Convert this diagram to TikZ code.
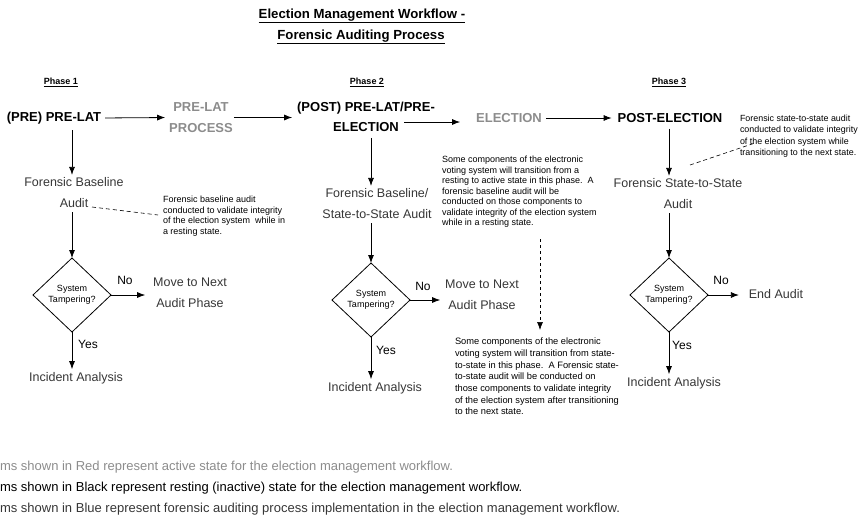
\documentclass[tikz,border=0pt]{standalone}
\usepackage{fontspec}
\setmainfont{Liberation Sans}
\usetikzlibrary{arrows.meta,shapes.geometric}
\definecolor{activegray}{HTML}{8C8C8C}
\definecolor{auditgray}{HTML}{363636}
\begin{document}
\begin{tikzpicture}[x=1pt,y=-1pt,
  every node/.style={inner sep=0pt, outer sep=0pt},
  arr/.style={draw, line width=0.8pt, -{Latex[length=8pt,width=6pt]}},
  dasharr/.style={draw, line width=0.6pt, dash pattern=on 3pt off 3pt, -{Latex[length=8pt,width=6pt]}},
  dashline/.style={draw, line width=0.6pt, dash pattern=on 4pt off 3pt},
  statebk/.style={font=\fontsize{13}{20}\selectfont\bfseries, text=black, align=center},
  stateact/.style={font=\fontsize{13}{21}\selectfont\bfseries, text=activegray, align=center},
  audit/.style={font=\fontsize{12.5}{21}\selectfont, text=auditgray, align=center},
  notetxt/.style={font=\fontsize{9}{10.5}\selectfont, align=left, anchor=north west, text=black},
  decision/.style={diamond, draw, line width=0.8pt, minimum width=78pt, minimum height=74pt, aspect=1.05, font=\fontsize{9}{11}\selectfont, align=center},
  phase/.style={font=\fontsize{9}{11}\selectfont\bfseries},
  lbl/.style={font=\fontsize{12}{14}\selectfont, text=black},
  legendtxt/.style={font=\fontsize{13}{15}\selectfont, anchor=west},
  titletxt/.style={font=\fontsize{13.2}{16}\selectfont\bfseries}
]
\useasboundingbox (0,0) rectangle (860,525);

% title
\node[titletxt] (t1) at (362,16) {\underline{Election Management Workflow -}};
\node[titletxt] (t2) at (361,37) {\underline{Forensic Auditing Process}};

% phase labels
\node[phase] (ph1) at (61,82) {\underline{Phase 1}};
\node[phase] (ph2) at (367,82) {\underline{Phase 2}};
\node[phase] (ph3) at (669,82) {\underline{Phase 3}};

% top row
\node[statebk] (prelat) at (54,118) {(PRE) PRE-LAT};
\node[stateact] (proc) at (201,117.5) {PRE-LAT\\PROCESS};
\node[statebk] (postpre) at (366,117) {(POST) PRE-LAT/PRE-\\ELECTION};
\node[stateact] (elec) at (509,118) {ELECTION};
\node[statebk] (postel) at (670,118) {POST-ELECTION};

\draw[arr, shorten <=4pt, shorten >=4pt] (prelat.east) -- (proc.west);
\draw[arr, shorten <=1pt, shorten >=5pt] (proc.east) -- (proc.east -| postpre.west);
\coordinate (a3s) at (404,122);
\draw[arr, shorten >=16pt] (a3s) -- (a3s -| elec.west);
\draw[arr, shorten <=4pt, shorten >=6pt] (elec.east) -- (elec.east -| postel.west);

% phase 1 column
\node[audit] (fba) at (74,193) {Forensic Baseline\\Audit};
\node[decision] (d1) at (72,295) {System\\Tampering?};
\node[audit] (move1) at (190,293) {Move to Next\\Audit Phase};
\node[audit] (inc1) at (76,378) {Incident Analysis};
\draw[arr, shorten <=6pt, shorten >=3pt] (d1 |- prelat.south) -- (d1 |- fba.north);
\draw[arr, shorten <=4pt, shorten >=0pt] (d1 |- fba.south) -- (d1.north);
\draw[arr, shorten >=8pt] (d1.east) -- (d1.east -| move1.west);
\node[lbl] (no1) at (125,280) {No};
\draw[arr, shorten >=3pt] (d1.south) -- (d1 |- inc1.north);
\node[lbl] (yes1) at (88,344) {Yes};
\node[notetxt] (note1) at (163,196) {Forensic baseline audit\\conducted to validate integrity\\of the election system\ \ while in\\a resting state.};
\coordinate (d1a) at (92,207);
\coordinate (d1b) at (158,215);
\draw[dashline] (d1a) -- (d1b);

% phase 2 column
\node[audit] (fbs) at (377,204) {Forensic Baseline/\\State-to-State Audit};
\node[decision] (d2) at (371,300) {System\\Tampering?};
\node[audit] (move2) at (482,295) {Move to Next\\Audit Phase};
\node[audit] (inc2) at (375,388) {Incident Analysis};
\draw[arr, shorten <=6pt, shorten >=3pt] (d2 |- postpre.south) -- (d2 |- fbs.north);
\draw[arr, shorten <=4pt, shorten >=0pt] (d2 |- fbs.south) -- (d2.north);
\draw[arr, shorten >=5pt] (d2.east) -- (d2.east -| move2.west);
\node[lbl] (no2) at (423,286) {No};
\draw[arr, shorten >=3pt] (d2.south) -- (d2 |- inc2.north);
\node[lbl] (yes2) at (386,350) {Yes};
\node[notetxt] (note2) at (442,156) {Some components of the electronic\\voting system will transition from a\\resting to active state in this phase.\ \ A\\forensic baseline audit will be\\conducted on those components to\\validate integrity of the election system\\while in a resting state.};
\node[notetxt, font=\fontsize{9.3}{11.7}\selectfont] (note3) at (455,338) {Some components of the electronic\\voting system will transition from state-\\to-state in this phase.\ \ A Forensic state-\\to-state audit will be conducted on\\those components to validate integrity\\of the election system after transitioning\\to the next state.};
\coordinate (da) at (540,239);
\draw[dasharr, shorten >=8pt] (da) -- (da |- note3.north);

% phase 3 column
\node[audit] (fss) at (678,194) {Forensic State-to-State\\Audit};
\node[decision] (d3) at (669,295) {System\\Tampering?};
\node[audit] (endaud) at (776,294) {End Audit};
\node[audit] (inc3) at (674,383) {Incident Analysis};
\draw[arr, shorten <=6pt, shorten >=3pt] (d3 |- postel.south) -- (d3 |- fss.north);
\draw[arr, shorten <=4pt, shorten >=0pt] (d3 |- fss.south) -- (d3.north);
\draw[arr, shorten >=10pt] (d3.east) -- (d3.east -| endaud.west);
\node[lbl] (no3) at (721,280) {No};
\draw[arr, shorten >=3pt] (d3.south) -- (d3 |- inc3.north);
\node[lbl] (yes3) at (682,345) {Yes};
\node[notetxt, font=\fontsize{8.9}{11.3}\selectfont] (note4) at (740,115) {Forensic state-to-state audit\\conducted to validate integrity\\of the election system while\\transitioning to the next state.};
\coordinate (d3a) at (690,165);
\coordinate (d3b) at (755,143);
\draw[dashline] (d3a) -- (d3b);

% legend
\node[legendtxt, text=activegray] (lg1) at (0,467) {ms shown in Red represent active state for the election management workflow.};
\node[legendtxt, text=black] (lg2) at (0,488) {ms shown in Black represent resting (inactive) state for the election management workflow.};
\node[legendtxt, text=auditgray] (lg3) at (0,509) {ms shown in Blue represent forensic auditing process implementation in the election management workflow.};
\end{tikzpicture}
\end{document}
